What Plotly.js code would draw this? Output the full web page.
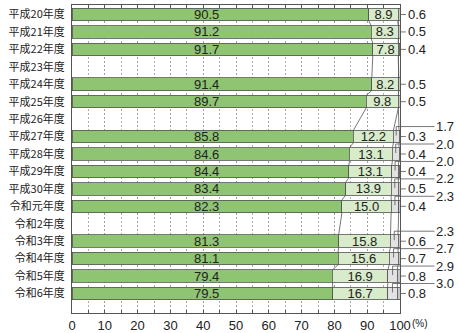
<!DOCTYPE html>
<html>
<head>
<meta charset="utf-8">
<script src="https://cdn.plot.ly/plotly-3.0.1.min.js"></script>
<style>
  html, body { margin: 0; padding: 0; background: #fff; }
  #chart { width: 459px; height: 333px; }
</style>
</head>
<body>
<div id="chart"></div>
<script>
// Fiscal years (rows with no survey are kept as empty rows)
const years = ['平成20年度', '平成21年度', '平成22年度', '平成23年度', '平成24年度', '平成25年度',
  '平成26年度', '平成27年度', '平成28年度', '平成29年度', '平成30年度', '令和元年度', '令和2年度',
  '令和3年度', '令和4年度', '令和5年度', '令和6年度'];

// Share of each answer (%)
const mainShare   = [90.5, 91.2, 91.7, null, 91.4, 89.7, null, 85.8, 84.6, 84.4, 83.4, 82.3, null, 81.3, 81.1, 79.4, 79.5];
const secondShare = [8.9, 8.3, 7.8, null, 8.2, 9.8, null, 12.2, 13.1, 13.1, 13.9, 15.0, null, 15.8, 15.6, 16.9, 16.7];
const thirdShare  = [null, null, null, null, null, null, null, 1.7, 2.0, 2.0, 2.2, 2.3, null, 2.3, 2.7, 2.9, 3.0];
const otherShare  = [0.6, 0.5, 0.4, null, 0.5, 0.5, null, 0.3, 0.4, 0.4, 0.5, 0.4, null, 0.6, 0.7, 0.8, 0.8];

const xTickVals = [0, 10, 20, 30, 40, 50, 60, 70, 80, 90, 100];

// Styling
const FILLS = ['#8fc472', '#d8ebca', '#e2e2e2', '#c7c7c7'];
const EDGE = '#555555';
const INK = '#222222';
const NUM_FONT = 'Liberation Sans, Arial, sans-serif';
const JP_FONT = 'Noto Sans CJK JP, sans-serif';
const BAR_WIDTH = 0.72;
const MAIN_LABEL_X = 41;      // data x where the first-segment numbers sit
const SIDE_LABEL_X = 101.8;   // start of the small right-hand labels
const FAR_LABEL_X = 110.5;    // start of the upper right-hand labels

function barTrace(values, fill, withText) {
  const t = {
    type: 'bar',
    orientation: 'h',
    y: years,
    x: values,
    width: BAR_WIDTH,
    marker: { color: fill, line: { color: EDGE, width: 0.8 } },
    hoverinfo: 'skip',
    showlegend: false
  };
  if (withText) {
    t.texttemplate = '%{x:.1f}';
    t.textposition = 'inside';
    t.insidetextanchor = 'middle';
    t.textangle = 0;
    t.textfont = { family: NUM_FONT, size: 13, color: INK };
  } else {
    t.textposition = 'none';
  }
  return t;
}

const traces = [
  barTrace(mainShare, FILLS[0], false),
  barTrace(secondShare, FILLS[1], true),
  barTrace(thirdShare, FILLS[2], false),
  barTrace(otherShare, FILLS[3], false)
];

// Cumulative boundaries of each row, used for the connector lines
const present = [];
const bounds = years.map((_, i) => {
  if (mainShare[i] == null) return null;
  present.push(i);
  const b1 = mainShare[i];
  const b2 = b1 + secondShare[i];
  const b3 = b2 + (thirdShare[i] || 0);
  return [b1, b2, b3];
});

const shapes = [];
for (let k = 0; k + 1 < present.length; k++) {
  const a = present[k], b = present[k + 1];
  bounds[a].forEach((xa, j) => {
    shapes.push({
      type: 'line', xref: 'x', yref: 'y', layer: 'above',
      x0: xa, y0: a + BAR_WIDTH / 2,
      x1: bounds[b][j], y1: b - BAR_WIDTH / 2,
      line: { color: EDGE, width: 0.8 }
    });
  });
}

const annotations = [];
years.forEach((_, i) => {
  if (mainShare[i] == null) return;
  annotations.push({
    xref: 'x', yref: 'y', x: MAIN_LABEL_X, y: i,
    text: mainShare[i].toFixed(1), showarrow: false,
    font: { family: NUM_FONT, size: 13, color: INK }
  });
  annotations.push({
    xref: 'x', yref: 'y', x: 100, y: i,
    axref: 'x', ax: SIDE_LABEL_X, ay: 0,
    text: otherShare[i].toFixed(1), xanchor: 'left', yanchor: 'middle',
    showarrow: true, arrowhead: 0, arrowwidth: 0.8, arrowcolor: EDGE,
    standoff: 0, startstandoff: 0, borderpad: 1,
    font: { family: NUM_FONT, size: 13, color: INK }
  });
  if (thirdShare[i] != null) {
    const xv = bounds[i][1] + thirdShare[i] / 2;
    // short riser inside the grey segment
    shapes.push({
      type: 'line', xref: 'x', yref: 'y', layer: 'above',
      x0: xv, x1: xv, ysizemode: 'pixel', yanchor: i, y0: 1, y1: 10,
      line: { color: EDGE, width: 0.8 }
    });
    annotations.push({
      xref: 'x', yref: 'y', x: xv, y: i, yshift: 10,
      axref: 'x', ax: FAR_LABEL_X, ay: 0,
      text: thirdShare[i].toFixed(1), xanchor: 'left', yanchor: 'middle',
      showarrow: true, arrowhead: 0, arrowwidth: 0.8, arrowcolor: EDGE,
      standoff: 0, startstandoff: 0, borderpad: 1,
      font: { family: NUM_FONT, size: 13, color: INK }
    });
  }
});

annotations.push({
  xref: 'x', yref: 'paper', x: 100, y: 0, xshift: 10, yshift: -10,
  xanchor: 'left', yanchor: 'middle', showarrow: false,
  text: '(%)', font: { family: NUM_FONT, size: 10, color: INK }
});

const layout = {
  width: 459,
  height: 333,
  margin: { l: 72, r: 59, t: 5, b: 20, pad: 0 },
  paper_bgcolor: '#ffffff',
  plot_bgcolor: '#ffffff',
  barmode: 'stack',
  uniformtext: { mode: 'show', minsize: 13 },
  xaxis: {
    range: [0, 100],
    tickvals: xTickVals,
    ticktext: xTickVals.map(String),
    tickfont: { family: NUM_FONT, size: 13, color: INK },
    showgrid: true,
    gridcolor: '#999999',
    gridwidth: 0.8,
    griddash: '2px,2px',
    zeroline: false,
    showline: true,
    linecolor: EDGE,
    linewidth: 1,
    mirror: 'ticks',
    ticks: 'inside',
    ticklen: 3,
    tickcolor: EDGE,
    minor: { dtick: 5, showgrid: true, gridcolor: '#999999', gridwidth: 0.8, griddash: '2px,2px',
             ticks: 'inside', ticklen: 3, tickcolor: EDGE },
    fixedrange: true
  },
  yaxis: {
    type: 'category',
    categoryorder: 'array',
    categoryarray: years,
    autorange: 'reversed',
    tickfont: { family: JP_FONT, size: 11, color: INK },
    showgrid: false,
    showline: true,
    linecolor: EDGE,
    linewidth: 1,
    mirror: true,
    ticks: '',
    ticklabelstandoff: 4,
    fixedrange: true
  },
  shapes: shapes,
  annotations: annotations
};

Plotly.newPlot('chart', traces, layout, { displayModeBar: false, staticPlot: true });
</script>
</body>
</html>
